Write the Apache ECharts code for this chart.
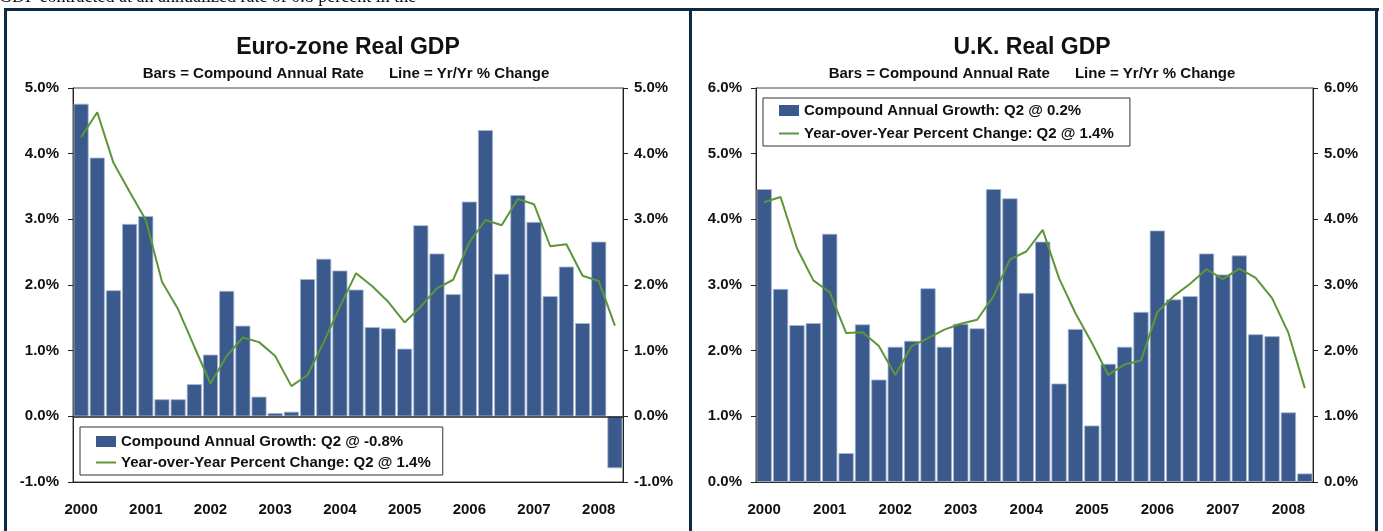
<!DOCTYPE html>
<html>
<head>
<meta charset="utf-8">
<script src="https://cdn.jsdelivr.net/npm/echarts@6/dist/echarts.min.js"></script>
<style>
  html, body { margin: 0; padding: 0; background: #fff; }
  #chart { width: 1383px; height: 531px; }
</style>
</head>
<body>
<div id="chart"></div>
<script>
// quarters 2000 Q1 .. 2008 Q2
var quarters = [
  "2000 Q1", "2000 Q2", "2000 Q3", "2000 Q4",
  "2001 Q1", "2001 Q2", "2001 Q3", "2001 Q4",
  "2002 Q1", "2002 Q2", "2002 Q3", "2002 Q4",
  "2003 Q1", "2003 Q2", "2003 Q3", "2003 Q4",
  "2004 Q1", "2004 Q2", "2004 Q3", "2004 Q4",
  "2005 Q1", "2005 Q2", "2005 Q3", "2005 Q4",
  "2006 Q1", "2006 Q2", "2006 Q3", "2006 Q4",
  "2007 Q1", "2007 Q2", "2007 Q3", "2007 Q4",
  "2008 Q1", "2008 Q2"
];

// Euro-zone: compound annual rate (bars), yr/yr % change (line)
var euroBars = [4.76, 3.94, 1.92, 2.93, 3.05, 0.26, 0.26, 0.49, 0.94, 1.91, 1.38, 0.30,
  0.05, 0.07, 2.09, 2.40, 2.22, 1.93, 1.36, 1.34, 1.03, 2.91, 2.48, 1.86,
  3.27, 4.36, 2.17, 3.37, 2.96, 1.83, 2.28, 1.42, 2.66, -0.79];
var euroLine = [4.25, 4.63, 3.86, 3.42, 2.99, 2.05, 1.63, 1.06, 0.50, 0.92, 1.20, 1.13,
  0.92, 0.46, 0.63, 1.13, 1.67, 2.18, 1.98, 1.74, 1.43, 1.67, 1.95, 2.08,
  2.65, 2.99, 2.91, 3.31, 3.23, 2.59, 2.62, 2.14, 2.06, 1.38];

// U.K.
var ukBars = [4.46, 2.94, 2.39, 2.42, 3.78, 0.44, 2.40, 1.56, 2.06, 2.15, 2.95, 2.06,
  2.41, 2.34, 4.46, 4.32, 2.88, 3.66, 1.50, 2.33, 0.86, 1.80, 2.06, 2.59,
  3.83, 2.78, 2.83, 3.48, 3.16, 3.45, 2.25, 2.22, 1.06, 0.13];
var ukLine = [4.26, 4.34, 3.56, 3.07, 2.89, 2.27, 2.28, 2.07, 1.63, 2.07, 2.19, 2.32,
  2.41, 2.47, 2.83, 3.39, 3.51, 3.84, 3.10, 2.57, 2.12, 1.63, 1.79, 1.85,
  2.59, 2.83, 3.02, 3.24, 3.09, 3.25, 3.11, 2.80, 2.27, 1.43];

var euroNames = ["Compound Annual Growth: Q2 @ -0.8%", "Year-over-Year Percent Change: Q2 @ 1.4%"];
var ukNames = ["Compound Annual Growth: Q2 @ 0.2%", "Year-over-Year Percent Change: Q2 @ 1.4% "];

var FONT = "Liberation Sans, Arial, sans-serif";
var BAR = "#3a5a8d";
var LINE = "#5d9639";
var AXIS = "#222";
var FRAME = "#0e2a42";

var myChart = echarts.init(document.getElementById("chart"));

function xAxisFor(idx) {
  return {
    type: "category",
    gridIndex: idx,
    data: quarters,
    boundaryGap: true,
    axisLine: { onZero: false, lineStyle: { color: AXIS, width: 1 } },
    axisTick: { interval: 1, length: 5, lineStyle: { color: AXIS } },
    axisLabel: {
      interval: 3,
      margin: 20,
      color: "#111",
      fontFamily: FONT,
      fontWeight: "bold",
      fontSize: 15,
      formatter: function (v) { return v.slice(0, 4); },
    },
  };
}

function yAxisFor(idx, pos, min, max) {
  return {
    type: "value",
    gridIndex: idx,
    position: pos,
    min: min,
    max: max,
    interval: 1,
    axisLine: { show: true, lineStyle: { color: AXIS, width: 1 } },
    axisTick: { show: true, length: 5, lineStyle: { color: AXIS } },
    splitLine: { show: false },
    axisLabel: {
      margin: pos === "left" ? 14 : 11,
      color: "#111",
      fontFamily: FONT,
      fontWeight: "bold",
      fontSize: 15,
      formatter: function (v) { return v.toFixed(1) + "%"; },
    },
  };
}

function legendFor(names, left, top, padding, gap) {
  return {
    orient: "vertical",
    left: left,
    top: top,
    data: [
      { name: names[0], icon: "rect", itemStyle: { borderWidth: 0 } },
      // hide the default circle on the line icon, keep the line
      { name: names[1], itemStyle: { opacity: 0 } },
    ],
    itemWidth: 20,
    itemHeight: 11,
    itemGap: gap,
    padding: padding,
    borderColor: "#333",
    borderWidth: 1,
    backgroundColor: "#fff",
    selectedMode: false,
    textStyle: { fontFamily: FONT, fontWeight: "bold", fontSize: 15, color: "#111" },
  };
}

function barSeries(name, data, idx, zeroLine) {
  var s = {
    name: name,
    type: "bar",
    xAxisIndex: idx,
    yAxisIndex: idx * 2,
    data: data,
    barCategoryGap: "7%",
    itemStyle: { color: BAR, borderColor: "#a9b7cf", borderWidth: 0.8 },
  };
  if (zeroLine) {
    s.markLine = {
      silent: true,
      symbol: ["none", "none"],
      label: { show: false },
      lineStyle: { color: AXIS, type: "solid", width: 1.5 },
      data: [{ yAxis: 0 }],
    };
  }
  return s;
}

function lineSeries(name, data, idx) {
  return {
    name: name,
    type: "line",
    xAxisIndex: idx,
    yAxisIndex: idx * 2,
    data: data,
    symbol: "none",
    lineStyle: { color: LINE, width: 2 },
    itemStyle: { color: LINE },
    z: 5,
  };
}

function titleText(text, x, y, size) {
  return {
    type: "text",
    x: x,
    y: y,
    style: {
      text: text,
      fill: "#111",
      font: "bold " + size + "px " + FONT,
      align: "center",
      verticalAlign: "middle",
    },
  };
}

function frameRect(x, y, w, h) {
  return { type: "rect", shape: { x: x, y: y, width: w, height: h }, style: { fill: FRAME }, z: 100 };
}

myChart.setOption({
  animation: false,
  backgroundColor: "#fff",
  grid: [
    { left: 73, right: 760, top: 88, bottom: 49, show: true, borderColor: "#444", borderWidth: 1 },
    { left: 756, right: 70, top: 88, bottom: 49, show: true, borderColor: "#444", borderWidth: 1 },
  ],
  xAxis: [xAxisFor(0), xAxisFor(1)],
  yAxis: [
    yAxisFor(0, "left", -1, 5),
    yAxisFor(0, "right", -1, 5),
    yAxisFor(1, "left", 0, 6),
    yAxisFor(1, "right", 0, 6),
  ],
  legend: [
    legendFor(euroNames, 80, 427, [7, 12, 5, 15], 6),
    legendFor(ukNames, 763, 98, [5, 12, 5, 15], 8),
  ],
  series: [
    barSeries(euroNames[0], euroBars, 0, true),
    lineSeries(euroNames[1], euroLine, 0),
    barSeries(ukNames[0], ukBars, 1, false),
    lineSeries(ukNames[1], ukLine, 1),
  ],
  graphic: [
    // clipped line of body text above the frame
    {
      type: "text",
      x: -1,
      y: 6,
      style: {
        text: "GDP contracted at an annualized rate of 0.8 percent in the",
        fill: "#111",
        font: "18px Liberation Serif, Times New Roman, serif",
        align: "left",
        verticalAlign: "bottom",
      },
    },
    titleText("Euro-zone Real GDP", 348, 48, 23),
    titleText("Bars = Compound Annual Rate      Line = Yr/Yr % Change", 346, 74, 15),
    titleText("U.K. Real GDP", 1032, 48, 23),
    titleText("Bars = Compound Annual Rate      Line = Yr/Yr % Change", 1032, 74, 15),
    frameRect(4, 8, 1375, 3),
    frameRect(4, 8, 3, 523),
    frameRect(689, 8, 3, 523),
    frameRect(1375, 8, 3, 523),
  ],
});
</script>
</body>
</html>
